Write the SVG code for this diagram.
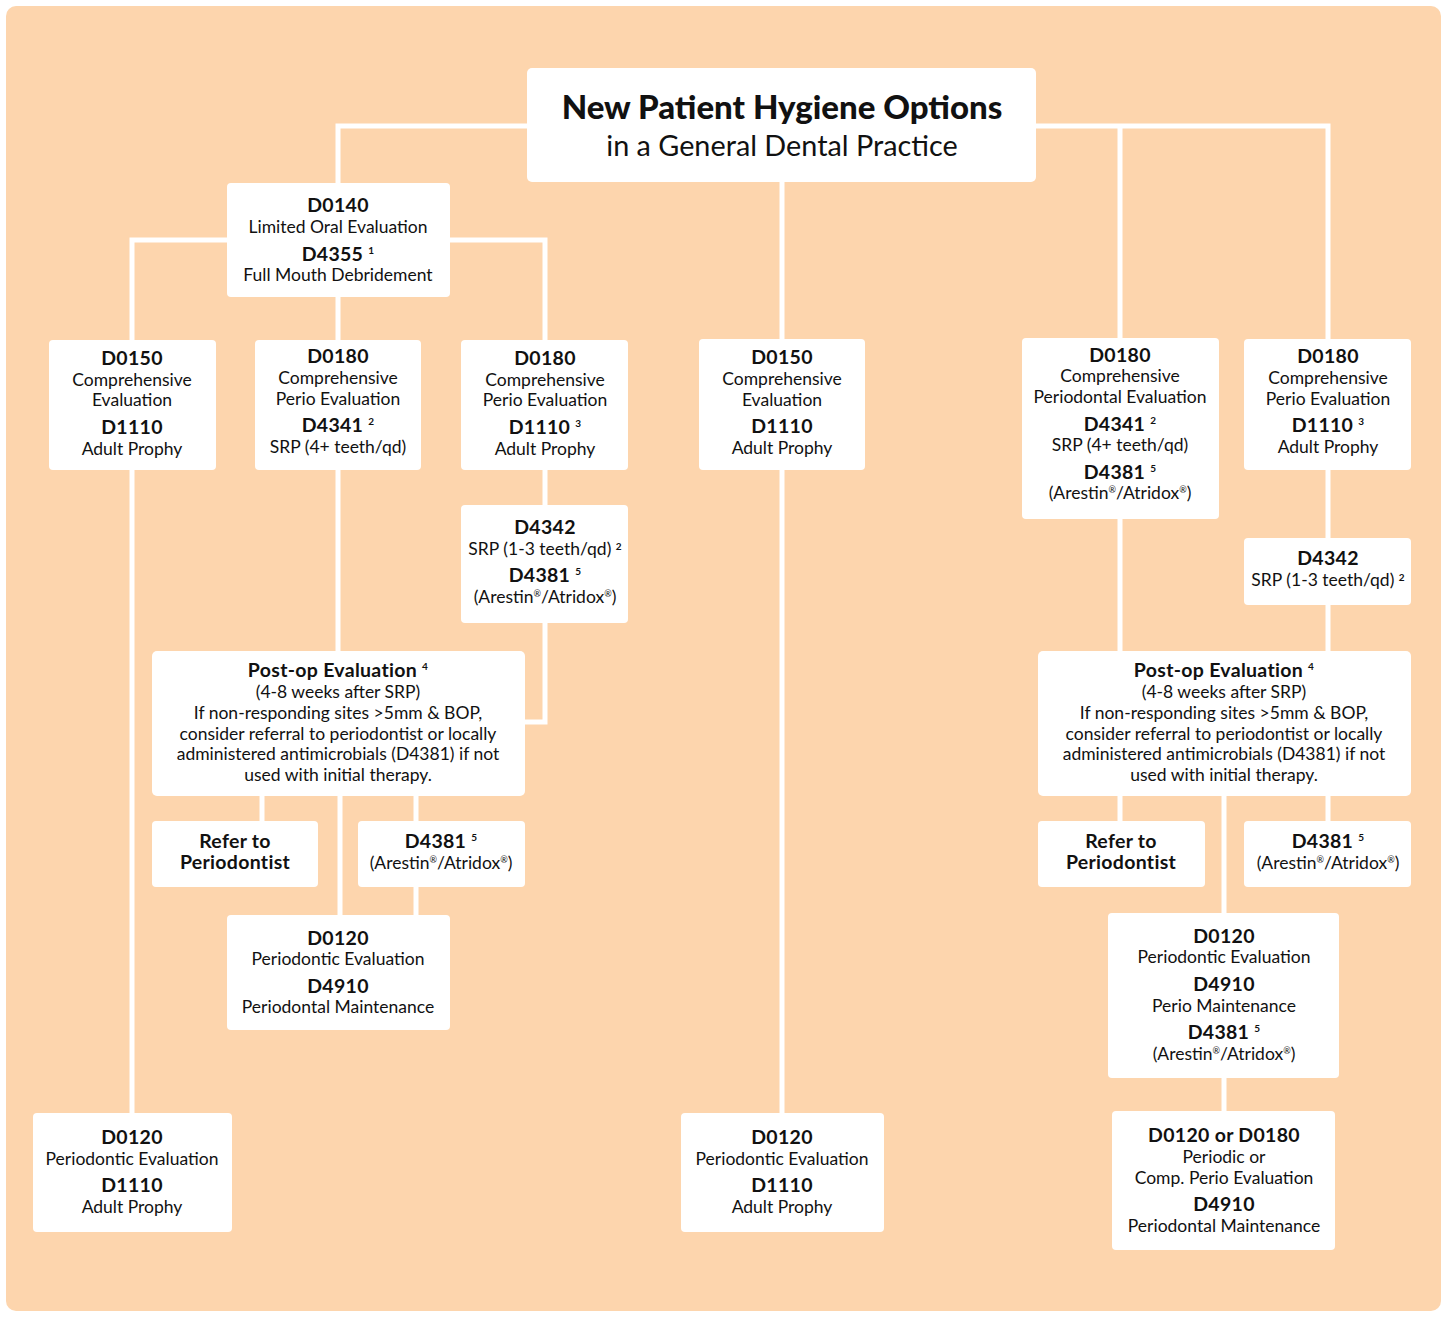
<svg xmlns="http://www.w3.org/2000/svg" width="1447" height="1317" viewBox="0 0 1447 1317">
<style>
.bg{fill:#FDD5AD}
.box{fill:#FFFFFF}
.ln{fill:none;stroke:#FFFFFF;stroke-width:5}
text{font-family:Lato,"Noto Sans",sans-serif;fill:#111;text-anchor:middle}
.b{font-size:19.5px;font-weight:bold;letter-spacing:0.3px}
.r{font-size:17.5px}
.s{font-size:10px;font-weight:bold}
.t1{font-size:33px;font-weight:900}
.t2{font-size:28.8px}
</style>
<rect x="0" y="0" width="1447" height="1317" fill="#FFFFFF"/>
<rect class="bg" x="6" y="6" width="1435" height="1305" rx="10"/>
<g id="connectors">
<path class="ln" d="M527,126 H338 V183"/>
<path class="ln" d="M1036,126 H1328 V340 M1120,126 V338"/>
<path class="ln" d="M782,182 V1113"/>
<path class="ln" d="M227,240 H132 V1113"/>
<path class="ln" d="M450,240 H545 V340"/>
<path class="ln" d="M338,297 V340"/>
<path class="ln" d="M545,470 V505"/>
<path class="ln" d="M545,623 V722 H525"/>
<path class="ln" d="M338,470 V651"/>
<path class="ln" d="M262,796 V821"/>
<path class="ln" d="M416,796 V915"/>
<path class="ln" d="M340,796 V915"/>
<path class="ln" d="M1120,519 V651"/>
<path class="ln" d="M1328,470 V651"/>
<path class="ln" d="M1120,796 V821"/>
<path class="ln" d="M1328,796 V821"/>
<path class="ln" d="M1224,796 V1111"/>
</g>
<g id="title">
<rect class="box" x="527" y="68" width="509" height="114" rx="5"/>
<text class="t1" x="782" y="119">New Patient Hygiene Options</text>
<text class="t2" x="782" y="156">in a General Dental Practice</text>
</g>
<g id="d0140">
<rect class="box" x="227" y="183" width="223" height="114" rx="4"/>
<text class="b" x="338" y="212">D0140</text>
<text class="r" x="338" y="233">Limited Oral Evaluation</text>
<text class="b" x="338" y="261">D4355 <tspan class="s" dy="-7">1</tspan></text>
<text class="r" x="338" y="281">Full Mouth Debridement</text>
</g>
<g id="a-d0150">
<rect class="box" x="49" y="340" width="167" height="130" rx="4"/>
<text class="b" x="132" y="365">D0150</text>
<text class="r" x="132" y="386">Comprehensive</text>
<text class="r" x="132" y="406">Evaluation</text>
<text class="b" x="132" y="434">D1110</text>
<text class="r" x="132" y="455">Adult Prophy</text>
</g>
<g id="b-d0180">
<rect class="box" x="255" y="340" width="166" height="130" rx="4"/>
<text class="b" x="338" y="363">D0180</text>
<text class="r" x="338" y="384">Comprehensive</text>
<text class="r" x="338" y="405">Perio Evaluation</text>
<text class="b" x="338" y="432">D4341 <tspan class="s" dy="-7">2</tspan></text>
<text class="r" x="338" y="453">SRP (4+ teeth/qd)</text>
</g>
<g id="c-d0180">
<rect class="box" x="461" y="340" width="167" height="130" rx="4"/>
<text class="b" x="545" y="365">D0180</text>
<text class="r" x="545" y="386">Comprehensive</text>
<text class="r" x="545" y="406">Perio Evaluation</text>
<text class="b" x="545" y="434">D1110 <tspan class="s" dy="-7">3</tspan></text>
<text class="r" x="545" y="455">Adult Prophy</text>
</g>
<g id="c-d4342">
<rect class="box" x="461" y="505" width="167" height="118" rx="4"/>
<text class="b" x="545" y="534">D4342</text>
<text class="r" x="545" y="555">SRP (1-3 teeth/qd) <tspan class="s" dy="-5">2</tspan></text>
<text class="b" x="545" y="582">D4381 <tspan class="s" dy="-7">5</tspan></text>
<text class="r" x="545" y="603">(Arestin<tspan font-size="9" dy="-6">®</tspan><tspan dy="6">/Atridox</tspan><tspan font-size="9" dy="-6">®</tspan><tspan dy="6">)</tspan></text>
</g>
<g id="d-d0150">
<rect class="box" x="699" y="339" width="166" height="131" rx="4"/>
<text class="b" x="782" y="364">D0150</text>
<text class="r" x="782" y="385">Comprehensive</text>
<text class="r" x="782" y="406">Evaluation</text>
<text class="b" x="782" y="433">D1110</text>
<text class="r" x="782" y="454">Adult Prophy</text>
</g>
<g id="e-d0180">
<rect class="box" x="1022" y="338" width="197" height="181" rx="4"/>
<text class="b" x="1120" y="362">D0180</text>
<text class="r" x="1120" y="382">Comprehensive</text>
<text class="r" x="1120" y="403">Periodontal Evaluation</text>
<text class="b" x="1120" y="431">D4341 <tspan class="s" dy="-7">2</tspan></text>
<text class="r" x="1120" y="451">SRP (4+ teeth/qd)</text>
<text class="b" x="1120" y="479">D4381 <tspan class="s" dy="-7">5</tspan></text>
<text class="r" x="1120" y="499">(Arestin<tspan font-size="9" dy="-6">®</tspan><tspan dy="6">/Atridox</tspan><tspan font-size="9" dy="-6">®</tspan><tspan dy="6">)</tspan></text>
</g>
<g id="f-d0180">
<rect class="box" x="1244" y="339" width="167" height="131" rx="4"/>
<text class="b" x="1328" y="363">D0180</text>
<text class="r" x="1328" y="384">Comprehensive</text>
<text class="r" x="1328" y="405">Perio Evaluation</text>
<text class="b" x="1328" y="432">D1110 <tspan class="s" dy="-7">3</tspan></text>
<text class="r" x="1328" y="453">Adult Prophy</text>
</g>
<g id="f-d4342">
<rect class="box" x="1244" y="538" width="167" height="67" rx="4"/>
<text class="b" x="1328" y="565">D4342</text>
<text class="r" x="1328" y="586">SRP (1-3 teeth/qd) <tspan class="s" dy="-5">2</tspan></text>
</g>
<g id="postop-left">
<rect class="box" x="152" y="651" width="373" height="145" rx="5"/>
<text class="b" x="338" y="677">Post-op Evaluation <tspan class="s" dy="-7">4</tspan></text>
<text class="r" x="338" y="698">(4-8 weeks after SRP)</text>
<text class="r" x="338" y="719">If non-responding sites &gt;5mm &amp; BOP,</text>
<text class="r" x="338" y="740">consider referral to periodontist or locally</text>
<text class="r" x="338" y="760">administered antimicrobials (D4381) if not</text>
<text class="r" x="338" y="781">used with initial therapy.</text>
</g>
<g id="refer-left">
<rect class="box" x="152" y="821" width="166" height="66" rx="4"/>
<text class="b" x="235" y="848">Refer to</text>
<text class="b" x="235" y="869">Periodontist</text>
</g>
<g id="d4381-left">
<rect class="box" x="358" y="821" width="167" height="66" rx="4"/>
<text class="b" x="441" y="848">D4381 <tspan class="s" dy="-7">5</tspan></text>
<text class="r" x="441" y="869">(Arestin<tspan font-size="9" dy="-6">®</tspan><tspan dy="6">/Atridox</tspan><tspan font-size="9" dy="-6">®</tspan><tspan dy="6">)</tspan></text>
</g>
<g id="d0120-left">
<rect class="box" x="227" y="915" width="223" height="115" rx="4"/>
<text class="b" x="338" y="945">D0120</text>
<text class="r" x="338" y="965">Periodontic Evaluation</text>
<text class="b" x="338" y="993">D4910</text>
<text class="r" x="338" y="1013">Periodontal Maintenance</text>
</g>
<g id="a-d0120">
<rect class="box" x="33" y="1113" width="199" height="119" rx="4"/>
<text class="b" x="132" y="1144">D0120</text>
<text class="r" x="132" y="1165">Periodontic Evaluation</text>
<text class="b" x="132" y="1192">D1110</text>
<text class="r" x="132" y="1213">Adult Prophy</text>
</g>
<g id="d-d0120">
<rect class="box" x="681" y="1113" width="203" height="119" rx="4"/>
<text class="b" x="782" y="1144">D0120</text>
<text class="r" x="782" y="1165">Periodontic Evaluation</text>
<text class="b" x="782" y="1192">D1110</text>
<text class="r" x="782" y="1213">Adult Prophy</text>
</g>
<g id="postop-right">
<rect class="box" x="1038" y="651" width="373" height="145" rx="5"/>
<text class="b" x="1224" y="677">Post-op Evaluation <tspan class="s" dy="-7">4</tspan></text>
<text class="r" x="1224" y="698">(4-8 weeks after SRP)</text>
<text class="r" x="1224" y="719">If non-responding sites &gt;5mm &amp; BOP,</text>
<text class="r" x="1224" y="740">consider referral to periodontist or locally</text>
<text class="r" x="1224" y="760">administered antimicrobials (D4381) if not</text>
<text class="r" x="1224" y="781">used with initial therapy.</text>
</g>
<g id="refer-right">
<rect class="box" x="1038" y="821" width="167" height="66" rx="4"/>
<text class="b" x="1121" y="848">Refer to</text>
<text class="b" x="1121" y="869">Periodontist</text>
</g>
<g id="d4381-right">
<rect class="box" x="1244" y="821" width="167" height="66" rx="4"/>
<text class="b" x="1328" y="848">D4381 <tspan class="s" dy="-7">5</tspan></text>
<text class="r" x="1328" y="869">(Arestin<tspan font-size="9" dy="-6">®</tspan><tspan dy="6">/Atridox</tspan><tspan font-size="9" dy="-6">®</tspan><tspan dy="6">)</tspan></text>
</g>
<g id="d0120-right">
<rect class="box" x="1108" y="913" width="231" height="165" rx="4"/>
<text class="b" x="1224" y="943">D0120</text>
<text class="r" x="1224" y="963">Periodontic Evaluation</text>
<text class="b" x="1224" y="991">D4910</text>
<text class="r" x="1224" y="1012">Perio Maintenance</text>
<text class="b" x="1224" y="1039">D4381 <tspan class="s" dy="-7">5</tspan></text>
<text class="r" x="1224" y="1060">(Arestin<tspan font-size="9" dy="-6">®</tspan><tspan dy="6">/Atridox</tspan><tspan font-size="9" dy="-6">®</tspan><tspan dy="6">)</tspan></text>
</g>
<g id="d0120-or-d0180">
<rect class="box" x="1112" y="1111" width="223" height="139" rx="4"/>
<text class="b" x="1224" y="1142">D0120 or D0180</text>
<text class="r" x="1224" y="1163">Periodic or</text>
<text class="r" x="1224" y="1184">Comp. Perio Evaluation</text>
<text class="b" x="1224" y="1211">D4910</text>
<text class="r" x="1224" y="1232">Periodontal Maintenance</text>
</g>
</svg>
